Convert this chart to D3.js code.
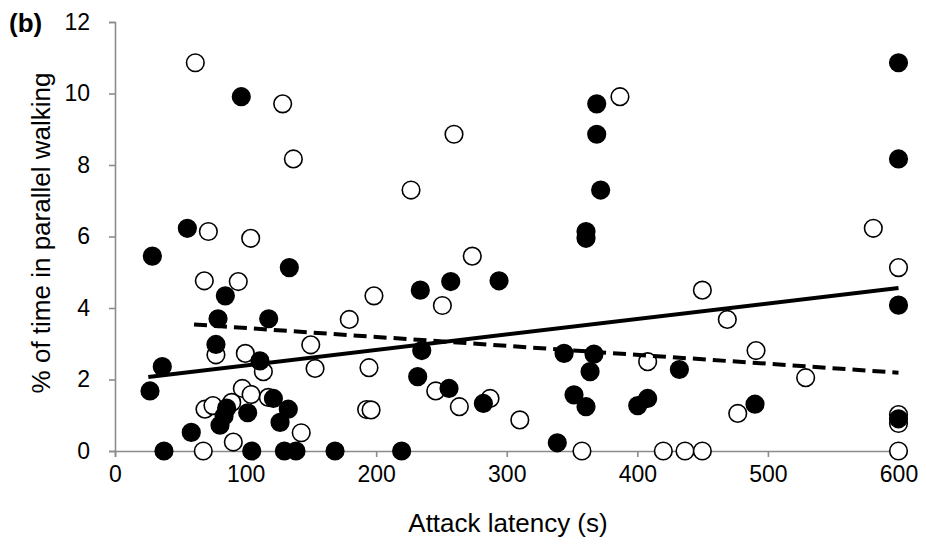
<!DOCTYPE html>
<html>
<head>
<meta charset="utf-8">
<script src="https://cdn.jsdelivr.net/npm/d3@7"></script>
<style>
  body { margin: 0; background: #fff; }
  text { font-family: "Liberation Sans", Arial, sans-serif; }
</style>
</head>
<body>
<svg id="chart" width="926" height="544"></svg>
<script>
// ---- data ----
const filledPoints = [
  [28.6,5.45],[26.8,1.68],[36.2,2.36],[37.5,0],[55.4,6.23],[58.4,0.52],[77.3,2.98],[78.9,3.70],
  [80.4,0.72],[83.5,0.98],[84.5,4.34],[85.5,1.2],[96.7,9.91],[101.6,1.07],[104.7,0],[111,2.52],
  [117.7,3.70],[121.3,1.47],[126.4,0.8],[129.7,0],[132.7,1.17],[133.5,5.13],[138.6,0],[168.5,0],
  [219.5,0],[231.8,2.08],[233.8,4.50],[234.9,2.81],[255.8,1.75],[257.1,4.74],[282.1,1.33],[294.1,4.76],
  [338.7,0.23],[343.9,2.73],[351.5,1.57],[360.7,6.14],[360.7,5.95],[360.7,1.24],[363.8,2.22],[366.8,2.71],
  [368.9,9.71],[368.9,8.86],[371.9,7.30],[400.3,1.27],[407.9,1.47],[432.2,2.28],[490.1,1.31],
  [600,10.86],[600,8.17],[600,4.08],[600,0.9]
];
const openPoints = [
  [61.5,10.86],[71.5,6.14],[103.9,5.95],[68.4,4.76],[94.4,4.74],[77.3,2.69],[99.8,2.73],[113.6,2.22],
  [128.4,9.71],[136.6,8.17],[149.9,2.97],[153.2,2.31],[68.9,1.17],[75,1.27],[89.4,1.36],[90.6,0.25],
  [97.5,1.75],[104.2,1.58],[117.4,1.5],[142.6,0.51],[67.6,0],[179.4,3.68],[192.7,1.16],[196.1,1.15],
  [194.5,2.33],[198.3,4.34],[226.7,7.30],[245.6,1.68],[250.7,4.07],[259.6,8.86],[263.7,1.24],[273.6,5.45],
  [287.2,1.47],[310,0.87],[357.6,0],[386.7,9.91],[407.9,2.50],[419.9,0],[436.5,0],[449.8,0],
  [449.8,4.50],[468.9,3.68],[476.9,1.05],[490.9,2.81],[528.9,2.05],[580.7,6.23],[600,5.13],
  [600,1.02],[600,0.77],[600,0]
];
const solidTrend = [[25.5,2.07],[600,4.56]];
const dashedTrend = [[60.5,3.54],[600,2.19]];
const xTicks = [0,100,200,300,400,500,600];
const yTicks = [0,2,4,6,8,10,12];
const xTitle = "Attack latency (s)";
const yTitle = "% of time in parallel walking";
const panelLabel = "(b)";

// ---- layout ----
const svg = d3.select("#chart");
const x = d3.scaleLinear().domain([0,600]).range([115,898.5]);
const y = d3.scaleLinear().domain([0,12]).range([451,22]);
const axisColor = "#8c8c8c";
const font = '"Liberation Sans", Arial, sans-serif';

const xAxis = svg.append("g").attr("transform", `translate(0,${y(0)})`)
  .call(d3.axisBottom(x).tickValues(xTicks).tickSize(6).tickPadding(9).tickFormat(d3.format("d")));
const yAxis = svg.append("g").attr("transform", `translate(${x(0)},0)`)
  .call(d3.axisLeft(y).tickValues(yTicks).tickSize(6).tickPadding(19).tickFormat(d3.format("d")));
[xAxis, yAxis].forEach(g => {
  g.select(".domain").attr("stroke", axisColor).attr("stroke-width", 1.6);
  g.selectAll(".tick line").attr("stroke", axisColor).attr("stroke-width", 1.6);
  g.selectAll(".tick text").attr("fill", "#000").attr("font-size", 23)
   .style("font-size", "23px").style("font-family", font);
});

// points
svg.append("g").selectAll("circle").data(openPoints).join("circle")
  .attr("cx", d => x(d[0])).attr("cy", d => y(d[1])).attr("r", 8.8)
  .attr("fill", "#fff").attr("stroke", "#000").attr("stroke-width", 1.6);
svg.append("g").selectAll("circle").data(filledPoints).join("circle")
  .attr("cx", d => x(d[0])).attr("cy", d => y(d[1])).attr("r", 8.8)
  .attr("fill", "#000").attr("stroke", "#000").attr("stroke-width", 1.6);

// trend lines
const line = d3.line().x(d => x(d[0])).y(d => y(d[1]));
svg.append("path").datum(solidTrend).attr("d", line)
  .attr("fill", "none").attr("stroke", "#000").attr("stroke-width", 4);
svg.append("path").datum(dashedTrend).attr("d", line)
  .attr("fill", "none").attr("stroke", "#000").attr("stroke-width", 4)
  .attr("stroke-dasharray", "13,7");

// titles
svg.append("text").attr("x", 508).attr("y", 532)
  .attr("text-anchor", "middle").style("font-size", "26px").text(xTitle);
svg.append("text").attr("transform", `translate(50,233) rotate(-90)`)
  .attr("text-anchor", "middle").style("font-size", "26px").text(yTitle);
svg.append("text").attr("x", 9).attr("y", 32)
  .style("font-size", "26px").style("font-weight", "bold").text(panelLabel);
</script>
</body>
</html>
